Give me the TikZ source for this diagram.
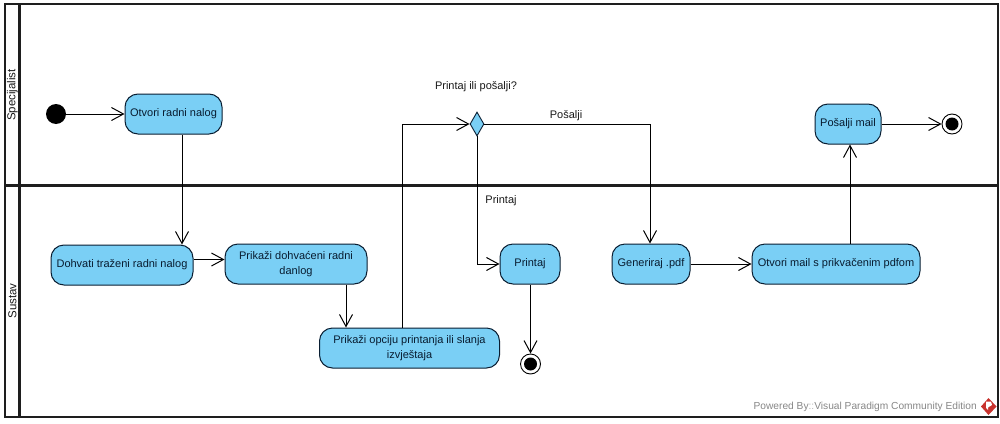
\documentclass[tikz,border=0pt]{standalone}
\usepackage{fontspec}
\setmainfont{Liberation Sans}
\usetikzlibrary{arrows.meta,shapes.geometric}
\definecolor{actfill}{RGB}{122,207,245}
\definecolor{actline}{RGB}{10,30,50}
\definecolor{frameline}{RGB}{30,30,30}
\definecolor{wm}{RGB}{135,135,135}
\definecolor{wmred}{RGB}{200,50,45}
\definecolor{acttext}{RGB}{8,28,48}
\newcommand{\lowtxt}[1]{\raisebox{-1.5pt}{#1}}
\tikzset{
  action/.style={draw=actline,fill=actfill,rounded corners=13pt,line width=1pt,minimum height=40pt,align=center,font=\fontsize{11}{15}\selectfont,text=acttext,inner sep=0pt},
  flow/.style={line width=1pt,-{Straight Barb[length=12pt,width=13pt,line width=1pt]}},
  lane/.style={draw=frameline,line width=2pt},
  lanethick/.style={draw=frameline,line width=3pt},
  plainlabel/.style={font=\fontsize{11}{13}\selectfont,text=black!90,inner sep=0pt},
  startdot/.style={circle,fill=black,minimum size=20pt,inner sep=0pt},
  enddot/.style={circle,draw=black,fill=white,line width=0.9pt,minimum size=20pt,inner sep=0pt,path picture={\fill[black] (path picture bounding box.center) circle (6.5pt);}},
  decision/.style={diamond,draw=actline,fill=actfill,line width=0.9pt,minimum width=14pt,minimum height=24pt,inner sep=0pt,shape aspect=0.58}
}
\begin{document}
\begin{tikzpicture}[x=1pt,y=-1pt]
\useasboundingbox[fill=white] (0,0) rectangle (1000,423);
% frame
\draw[lane] (4.5,4) rectangle (997.5,417);
\draw[lanethick] (19.5,4) -- (19.5,417);
\draw[lanethick] (4.5,185) -- (997.5,185);
\node[plainlabel,rotate=90,font=\fontsize{11.5}{13}\selectfont] (l1) at (12.5,95) {Specijalist};
\node[plainlabel,rotate=90,font=\fontsize{11.5}{13}\selectfont] (l2) at (12.5,301) {Sustav};
% nodes
\node[startdot] (st) at (56,114) {};
\node[action,minimum width=97pt] (otvori) at (173.5,114) {\lowtxt{Otvori radni nalog}};
\node[action,minimum width=142pt] (dohvati) at (122,265) {\lowtxt{Dohvati traženi radni nalog}};
\node[action,minimum width=142pt] (prikazi) at (296,264) {\lowtxt{Prikaži dohvaćeni radni}\\\lowtxt{danlog}};
\node[action,minimum width=180pt] (opcija) at (409.5,348) {\lowtxt{Prikaži opciju printanja ili slanja}\\\lowtxt{izvještaja}};
\node[action,minimum width=60pt] (printaj) at (530,264) {\lowtxt{Printaj}};
\node[action,minimum width=78pt] (gen) at (651,264) {\lowtxt{Generiraj .pdf}};
\node[action,minimum width=168pt] (mail) at (836,264) {\lowtxt{Otvori mail s prikvačenim pdfom}};
\node[action,minimum width=66pt] (salji) at (848,124) {\lowtxt{Pošalji mail}};
\node[decision] (dec) at (477,124) {};
\node[enddot] (e1) at (530.5,364) {};
\node[enddot] (e2) at (952,124) {};
% labels
\node[plainlabel] (q) at (476,87) {Printaj ili pošalji?};
\node[plainlabel] (lp) at (566,116) {Pošalji};
\node[plainlabel] (lr) at (501,201) {Printaj};
% waypoints
\coordinate (c1) at (182,0);
\coordinate (c2) at (346,0);
\coordinate (c3) at (402,0);
\coordinate (c4) at (650,0);
\coordinate (c5) at (850,0);
\coordinate (c6) at (477,264);
\coordinate (c7) at (0,259.5);
% connectors
\draw[flow] (st) -- (otvori);
\draw[flow] (otvori.south -| c1) -- (dohvati.north -| c1);
\draw[flow] (dohvati.east |- c7) -- (prikazi.west |- c7);
\draw[flow] (prikazi.south -| c2) -- (opcija.north -| c2);
\draw[flow] (opcija.north -| c3) -- (dec.west -| c3) -- (dec.west);
\draw[flow] (dec.east) -- (dec.east -| c4) -- (gen.north -| c4);
\draw[flow] (dec.south) -- (c6) -- (printaj.west);
\draw[flow] (printaj.south -| e1) -- (e1.north);
\draw[flow] (gen) -- (mail);
\draw[flow] (mail.north -| c5) -- (salji.south -| c5);
\draw[flow] (salji) -- (e2);
% watermark
\node[font=\fontsize{10.2}{12}\selectfont,text=wm,inner sep=0pt,anchor=east] (wmk) at (977,406.5) {Powered By\textcolor{wm!60}{::}Visual Paradigm Community Edition};
\fill[wmred] (988.5,398) -- (996.5,406.5) -- (988.5,415) -- (981,406.5) -- cycle;
\fill[white] (986,401.5) -- (991,401.5) -- (992,405) -- (988,407.5) -- (988,410) -- (986,408) -- cycle;
\end{tikzpicture}
\end{document}
